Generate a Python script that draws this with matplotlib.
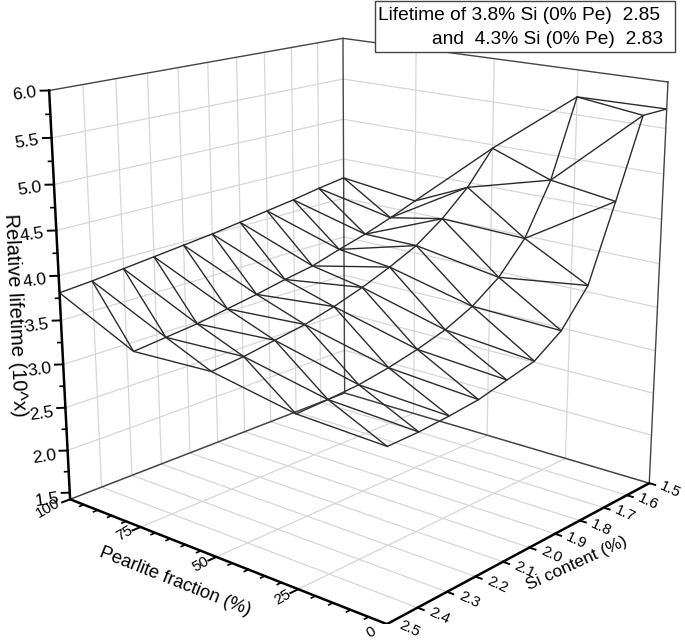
import numpy as np
import matplotlib
matplotlib.use("Agg")
import matplotlib.pyplot as plt
from matplotlib.patches import Rectangle
from mpl_toolkits.mplot3d import proj3d

plt.rcParams['font.family'] = ['Liberation Sans', 'DejaVu Sans']

si_values = [2.5, 2.4, 2.3, 2.2, 2.1, 2.0, 1.9, 1.8, 1.7, 1.6, 1.5]
pe_values = [100, 75, 50, 25, 0]

# relative lifetime, one list per pearlite fraction, si 2.5 -> 1.5
life_pe100 = [3.81, 3.84, 3.88, 3.92, 3.96, 4.00, 4.05, 4.10, 4.15, 4.21, 4.26]
life_pe75 = [3.40, 3.44, 3.48, 3.54, 3.60, 3.67, 3.73, 3.83, 3.92, 4.03, 4.15]
life_pe50 = [3.44, 3.48, 3.54, 3.60, 3.69, 3.80, 3.93, 4.08, 4.30, 4.58, 4.96]
life_pe25 = [3.27, 3.29, 3.32, 3.38, 3.46, 3.56, 3.71, 3.93, 4.27, 4.84, 5.70]
life_pe0 = [3.23, 3.24, 3.27, 3.31, 3.39, 3.47, 3.68, 4.06, 4.87, 5.71, 5.71]

z_ticks = [1.5, 2.0, 2.5, 3.0, 3.5, 4.0, 4.5, 5.0, 5.5, 6.0]
z_labels = ['1.5', '2.0', '2.5', '3.0', '3.5', '4.0', '4.5', '5.0', '5.5', '6.0']
pe_ticks = [100, 75, 50, 25, 0]
si_labels = ['2.5', '2.4', '2.3', '2.2', '2.1', '2.0', '1.9', '1.8', '1.7', '1.6', '1.5']

W, H = 685, 641
S = 640.0
zfloor = 1.42
ztop = 6.0
grid_col = '#d6d6d6'
wall_col = '#444444'
mesh_col = '#2b2b2b'

fig = plt.figure(figsize=(W/100, H/100), dpi=100)
ax = fig.add_axes([(353.6-S/2)/W, (H-304.03-S/2)/H, S/W, S/H], projection='3d')
ax.computed_zorder = False
ax.set_xlim(2.5, 1.5, view_margin=0)
ax.set_ylim(0, 100, view_margin=0)
ax.set_zlim(zfloor, ztop, view_margin=0)
ax.view_init(elev=16.7716, azim=-138.9319, roll=0.0999)
ax.set_proj_type('persp', focal_length=0.5324)
ax.set_box_aspect((1.0, 1.0038, 0.9983), zoom=1.1126)
ax.set_axis_off()


# text at a 3d position, placed in 2d so it stays a plain axes text
def label3d(si, pe, z, s, **kw):
    x, y, _ = proj3d.proj_transform(si, pe, z, ax.get_proj())
    ax.text2D(x, y, s, transform=ax.transData, ha='center', va='center', **kw)


# grid on floor and the two back walls
for s in si_values[1:-1]:
    ax.plot([s, s], [0, 100], [zfloor, zfloor], color=grid_col, lw=0.9, zorder=1)
    ax.plot([s, s], [100, 100], [zfloor, ztop], color=grid_col, lw=0.9, zorder=1)
for p in pe_values[1:-1]:
    ax.plot([2.5, 1.5], [p, p], [zfloor, zfloor], color=grid_col, lw=0.9, zorder=1)
    ax.plot([1.5, 1.5], [p, p], [zfloor, ztop], color=grid_col, lw=0.9, zorder=1)
for z in z_ticks[1:-1]:
    ax.plot([2.5, 1.5], [100, 100], [z, z], color=grid_col, lw=0.9, zorder=1)
    ax.plot([1.5, 1.5], [100, 0], [z, z], color=grid_col, lw=0.9, zorder=1)

# wall outline
ax.plot([2.5, 1.5, 1.5], [100, 100, 0], [ztop, ztop, ztop], color=wall_col, lw=1, zorder=2)
ax.plot([2.5, 1.5, 1.5], [100, 100, 0], [zfloor, zfloor, zfloor], color=wall_col, lw=1.1, zorder=2)
ax.plot([1.5, 1.5], [100, 100], [zfloor, ztop], color=wall_col, lw=1, zorder=2)
ax.plot([1.5, 1.5], [0, 0], [zfloor, ztop], color=wall_col, lw=1, zorder=2)

# surface mesh
life = np.array([life_pe100, life_pe75, life_pe50, life_pe25, life_pe0])
SI, PE = np.meshgrid(si_values, pe_values)
ax.plot_wireframe(SI, PE, life, rstride=1, cstride=1, color=mesh_col, lw=1, zorder=3)
for r in range(len(pe_values)-1):
    for i in range(len(si_values)-1):
        ax.plot([si_values[i+1], si_values[i]], [pe_values[r], pe_values[r+1]],
                [life[r, i+1], life[r+1, i]], color=mesh_col, lw=1, zorder=3)

# front axes
ax.plot([2.5, 2.5], [100, 100], [zfloor, ztop], color='k', lw=1.8, zorder=4)
ax.plot([2.5, 2.5], [100, 0], [zfloor, zfloor], color='k', lw=1.8, zorder=4)
ax.plot([2.5, 1.5], [0, 0], [zfloor, zfloor], color='k', lw=1.8, zorder=4)

for z, lab in zip(z_ticks, z_labels):
    ax.plot([2.5, 2.514], [100, 101.32], [z, z], color='k', lw=1.4, zorder=4)
    label3d(2.564, 100.9, z, lab, fontsize=12.5, rotation=8)
for z in np.arange(1.75, 6.0, 0.5):
    ax.plot([2.5, 2.507], [100, 100.66], [z, z], color='k', lw=1.2, zorder=4)

for p in range(0, 101, 5):
    major = p % 25 == 0
    ax.plot([2.5, 2.525 if major else 2.513], [p, p], [zfloor, zfloor], color='k',
            lw=1.4 if major else 1.2, zorder=4)
for p in pe_ticks:
    label3d(2.57 if p == 100 else 2.55, p, zfloor, str(p), fontsize=11, rotation=30)

for s, lab in zip(si_values, si_labels):
    ax.plot([s, s], [0, -1.7], [zfloor, zfloor], color='k', lw=1.4, zorder=4)
    # 2.5 sits on the bottom edge, lift it a little
    label3d(s, -6, zfloor + 0.04 if s == 2.5 else zfloor, lab, fontsize=11, rotation=-25)

# axis titles
fig.text(175/W, 1-581.7/H, 'Pearlite fraction (%)', fontsize=13.2, rotation=-21.5,
         ha='center', va='center')
fig.text(577/W, 1-563/H, 'Si content (%)', fontsize=12.5, rotation=24.6, ha='center', va='center')
fig.text(14.5/W, 1-315/H, 'Relative lifetime (10^x)', fontsize=14.5, rotation=-87.5,
         ha='center', va='center')

# note box
fig.add_artist(Rectangle((375/W, 1-52/H), 300/W, 50.5/H, transform=fig.transFigure,
                         facecolor='white', edgecolor='#444444', lw=1, zorder=5))
fig.text(660/W, 1-15/H, 'Lifetime of 3.8% Si (0% Pe)  2.85', fontsize=13.8, ha='right',
         va='center', zorder=6)
fig.text(663/W, 1-40/H, 'and  4.3% Si (0% Pe)  2.83', fontsize=13.8, ha='right', va='center',
         zorder=6)

fig.savefig('out.png', dpi=100)
